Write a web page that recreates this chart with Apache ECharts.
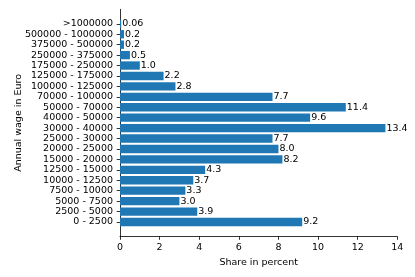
<!DOCTYPE html>
<html>
<head>
<meta charset="utf-8">
<script src="https://cdn.jsdelivr.net/npm/echarts@6/dist/echarts.min.js"></script>
<style>html,body{margin:0;padding:0;background:#fff;}#c{width:415px;height:277px;}</style>
</head>
<body>
<div id="c"></div>
<script>
const categories = ['0 - 2500','2500 - 5000','5000 - 7500','7500 - 10000','10000 - 12500','12500 - 15000','15000 - 20000','20000 - 25000','25000 - 30000','30000 - 40000','40000 - 50000','50000 - 70000','70000 - 100000','100000 - 125000','125000 - 175000','175000 - 250000','250000 - 375000','375000 - 500000','500000 - 1000000','>1000000'];
const shares = [9.2,3.9,3.0,3.3,3.7,4.3,8.2,8.0,7.7,13.4,9.6,11.4,7.7,2.8,2.2,1.0,0.5,0.2,0.2,0.06];
const xTicks = [0,2,4,6,8,10,12,14];

const FONT = 'DejaVu Sans';
const FS = 9.5;
const chart = echarts.init(document.getElementById('c'));
chart.setOption({
  animation: false,
  backgroundColor: '#fff',
  textStyle: {fontFamily: FONT},
  grid: [
    {left: 120, right: 17.7, top: 18.6, bottom: 49.8},
    {left: 120, right: 17.7, top: 9.3, bottom: 40.5}
  ],
  xAxis: [
    {gridIndex: 0, type: 'value', min: 0, max: 14, show: false},
    {gridIndex: 1, type: 'value', min: xTicks[0], max: xTicks[xTicks.length-1], interval: 2,
     splitLine: {show: false},
     axisLine: {show: true, lineStyle: {color: '#000', width: 0.8}},
     axisTick: {show: true, length: 3.3, lineStyle: {color: '#000', width: 0.8}},
     axisLabel: {color: '#000', fontSize: FS, fontFamily: FONT, margin: 6},
     name: 'Share in percent', nameLocation: 'middle', nameGap: 16,
     nameTextStyle: {color: '#000', fontSize: FS, fontFamily: FONT}}
  ],
  yAxis: [
    {gridIndex: 0, type: 'category', data: categories, boundaryGap: true,
     axisLine: {show: false},
     axisTick: {show: true, alignWithLabel: true, length: 3.3, lineStyle: {color: '#000', width: 0.8}},
     axisLabel: {color: '#000', fontSize: FS, fontFamily: FONT, margin: 7, interval: 0},
     splitLine: {show: false}},
    {gridIndex: 1, type: 'value', min: 0, max: 1,
     axisLine: {show: true, lineStyle: {color: '#000', width: 0.8}},
     axisTick: {show: false}, axisLabel: {show: false}, splitLine: {show: false},
     name: 'Annual wage in Euro', nameLocation: 'middle', nameGap: 96, nameRotate: 90,
     nameTextStyle: {color: '#000', fontSize: FS, fontFamily: FONT}}
  ],
  series: [
    {type: 'bar', xAxisIndex: 0, yAxisIndex: 0, data: shares, barWidth: 8.35,
     itemStyle: {color: '#1f77b4'},
     label: {show: true, position: 'right', distance: 1, color: '#000', fontSize: FS, fontFamily: FONT,
       formatter: p => p.value < 0.1 ? p.value.toFixed(2) : p.value.toFixed(1)}},
    {type: 'scatter', xAxisIndex: 1, yAxisIndex: 1, data: [], silent: true}
  ]
});
</script>
</body>
</html>
